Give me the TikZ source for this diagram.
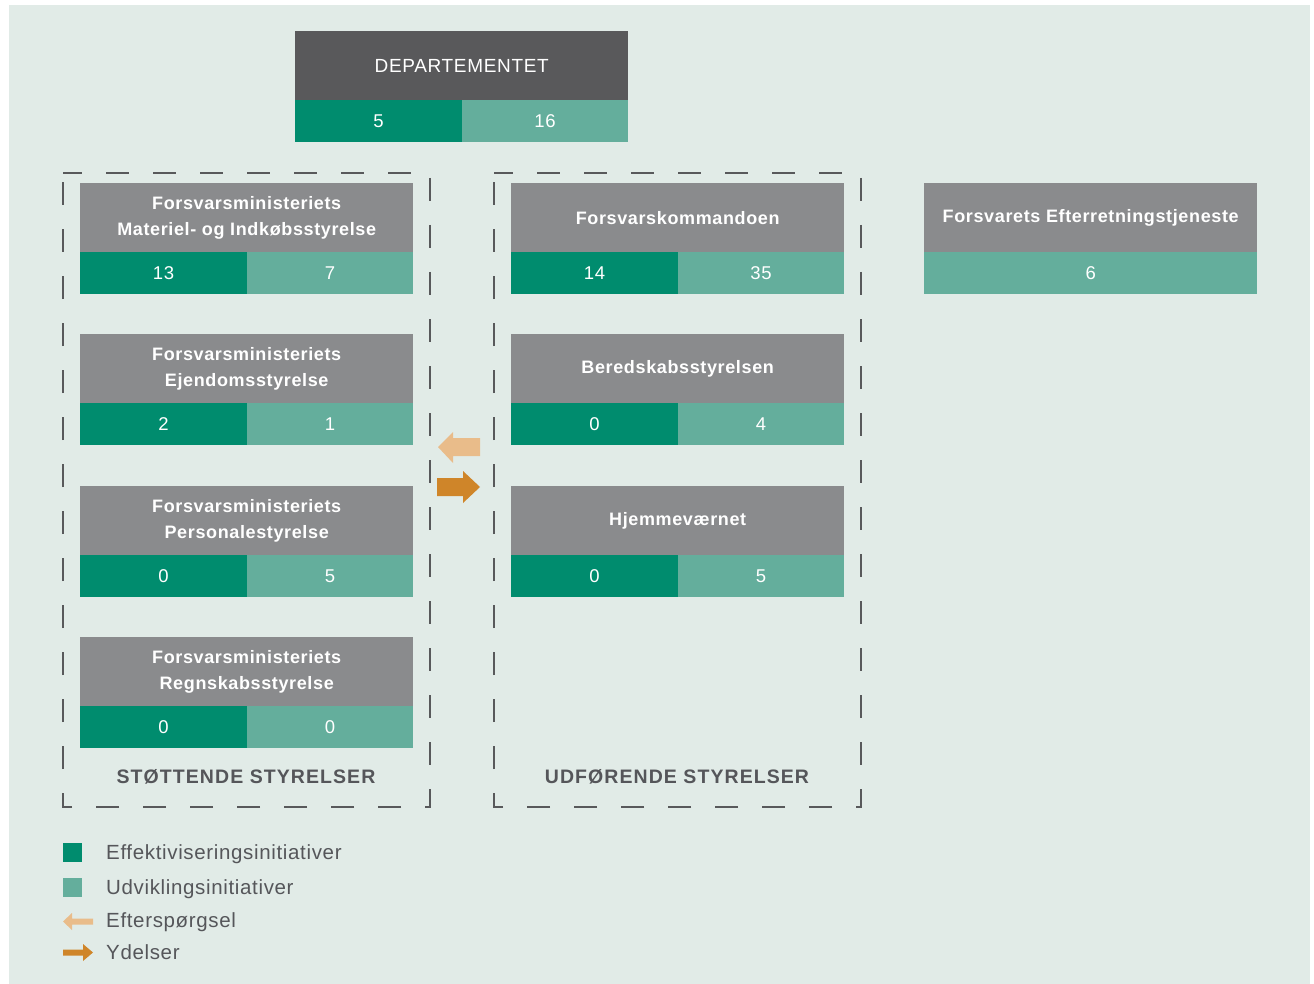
\documentclass[tikz,border=0pt]{standalone}
\usepackage{fontspec}
\setmainfont{Liberation Sans}
\newfontfamily\hdrfont[LetterSpace=3.5]{Liberation Sans}
\newfontfamily\legfont[LetterSpace=3.2]{Liberation Sans}
\newfontfamily\capfont[LetterSpace=5.5]{Liberation Sans}
\definecolor{bgc}{HTML}{E1EBE7}
\definecolor{hdrgray}{HTML}{8A8B8D}
\definecolor{depgray}{HTML}{59595B}
\definecolor{effg}{HTML}{008C6E}
\definecolor{udvg}{HTML}{64AE9C}
\definecolor{lorange}{HTML}{E9BC8A}
\definecolor{dorange}{HTML}{CF8529}
\definecolor{txtgray}{HTML}{55565A}
\definecolor{dashgray}{HTML}{58595B}
\tikzset{
  hdr/.style={fill=hdrgray, text=white, anchor=north west, inner sep=0pt,
    minimum width=333, minimum height=69, align=center,
    font=\hdrfont\bfseries\fontsize{18}{26}\selectfont},
  dephdr/.style={hdr, fill=depgray, font=\hdrfont\fontsize{19}{26}\selectfont},
  cellA/.style={fill=effg, text=white, anchor=north west, inner sep=0pt,
    minimum width=166.5, minimum height=42, font=\hdrfont\fontsize{18.5}{22}\selectfont},
  cellB/.style={cellA, fill=udvg},
  cellW/.style={cellB, minimum width=333},
  dashbox/.style={draw=dashgray, line width=2pt, dash pattern=on 23pt off 24pt, dash phase=4pt},
  grpcap/.style={text=txtgray, font=\capfont\bfseries\fontsize{19.5}{22}\selectfont, inner sep=0pt},
  legsq/.style={minimum size=19, inner sep=0pt},
  legtxt/.style={anchor=base west, text=txtgray, inner sep=0pt, font=\legfont\fontsize{20.5}{24}\selectfont},
}
\begin{document}
\begin{tikzpicture}[x=1pt,y=-1pt]
\useasboundingbox (0,0) rectangle (1314,984);
\fill[white] (0,0) rectangle (1314,984);
\fill[bgc] (9,5) rectangle (1310,984);

% dashed group frames
\draw[dashbox] (63,173) -- (430,173) -- (430,807) -- (63,807) -- cycle;
\draw[dashbox] (494,173) -- (861,173) -- (861,807) -- (494,807) -- cycle;

% Departementet
\node[dephdr] (dep) at (295,31) {DEPARTEMENTET};
\node[cellA] (depA) at (295,100) {5};
\node[cellB] (depB) at (461.5,100) {16};

% left column
\node[hdr] (m1) at (80,183) {Forsvarsministeriets\\Materiel- og Indkøbsstyrelse};
\node[cellA] (m1A) at (80,252) {13};
\node[cellB] (m1B) at (246.5,252) {7};

\node[hdr] (m2) at (80,334) {Forsvarsministeriets\\Ejendomsstyrelse};
\node[cellA] (m2A) at (80,403) {2};
\node[cellB] (m2B) at (246.5,403) {1};

\node[hdr] (m3) at (80,486) {Forsvarsministeriets\\Personalestyrelse};
\node[cellA] (m3A) at (80,555) {0};
\node[cellB] (m3B) at (246.5,555) {5};

\node[hdr] (m4) at (80,637) {Forsvarsministeriets\\Regnskabsstyrelse};
\node[cellA] (m4A) at (80,706) {0};
\node[cellB] (m4B) at (246.5,706) {0};

\node[grpcap] (capL) at (246,777) {STØTTENDE STYRELSER};

% right column
\node[hdr] (u1) at (511,183) {Forsvarskommandoen};
\node[cellA] (u1A) at (511,252) {14};
\node[cellB] (u1B) at (677.5,252) {35};

\node[hdr] (u2) at (511,334) {Beredskabsstyrelsen};
\node[cellA] (u2A) at (511,403) {0};
\node[cellB] (u2B) at (677.5,403) {4};

\node[hdr] (u3) at (511,486) {Hjemmeværnet};
\node[cellA] (u3A) at (511,555) {0};
\node[cellB] (u3B) at (677.5,555) {5};

\node[grpcap] (capR) at (677,777) {UDFØRENDE STYRELSER};

% FE
\node[hdr] (fe) at (924,183) {Forsvarets Efterretningstjeneste};
\node[cellW] (feB) at (924,252) {6};

% arrows between groups
\fill[lorange] (438,447) -- (453,432) -- (453,438) -- (480,438) -- (480,456) -- (453,456) -- (453,463) -- cycle;
\fill[dorange] (437,478) -- (463,478) -- (463,471) -- (480,487) -- (463,503) -- (463,496) -- (437,496) -- cycle;

% legend
\node[legsq, fill=effg] (lg1) at (72.5,852.5) {};
\node[legsq, fill=udvg] (lg2) at (72.5,887.5) {};
\fill[lorange] (63,921.5) -- (72,913) -- (72,918.5) -- (93,918.5) -- (93,924.5) -- (72,924.5) -- (72,930) -- cycle;
\fill[dorange] (63,949.5) -- (83,949.5) -- (83,944) -- (93,952.5) -- (83,961) -- (83,955.5) -- (63,955.5) -- cycle;
\node[legtxt] (lt1) at (106,859) {Effektiviseringsinitiativer};
\node[legtxt] (lt2) at (106,894) {Udviklingsinitiativer};
\node[legtxt] (lt3) at (106,927) {Efterspørgsel};
\node[legtxt] (lt4) at (106,959) {Ydelser};
\end{tikzpicture}
\end{document}
